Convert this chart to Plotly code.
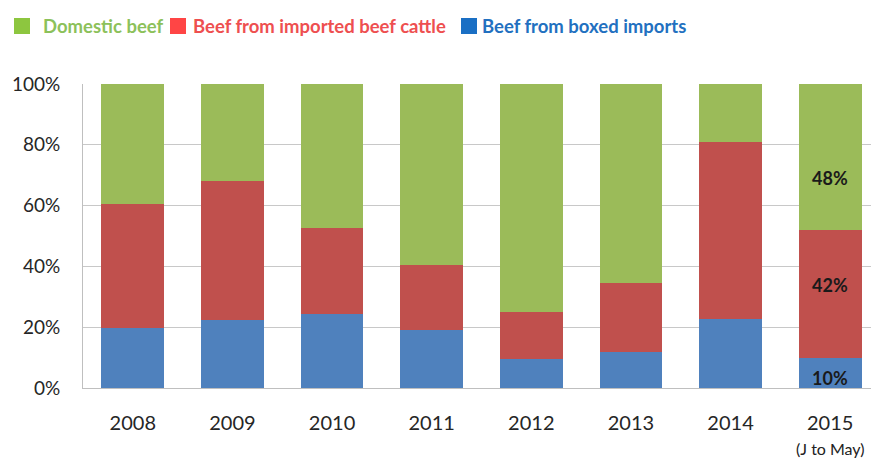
import plotly.graph_objects as go

# Share of beef supply by source, per year (percent of total)
years = ["2008", "2009", "2010", "2011", "2012", "2013", "2014", "2015"]
boxed_imports = [19.7, 22.4, 24.3, 19.1, 9.5, 12.0, 22.7, 10]
imported_cattle = [40.8, 45.8, 28.2, 21.4, 15.5, 22.6, 58.3, 42]
domestic_beef = [39.5, 31.8, 47.5, 59.5, 75.0, 65.4, 19.0, 48]

y_ticks = [0, 20, 40, 60, 80, 100]
y_tick_labels = [f"{v}%" for v in y_ticks]

labelled_year = "2015"
year_note = "(J to May)"

BAR_BLUE = "#4F81BD"
BAR_RED = "#C0504D"
BAR_GREEN = "#9BBB59"

W, H = 871, 459
ML, MR, MT, MB = 83, 0, 84, 71
PW, PH = W - ML - MR, H - MT - MB
FONT = "Lato, 'Open Sans', sans-serif"


def px_x(px):
    return (px - ML) / PW


def px_y(py):
    return (H - MB - py) / PH


fig = go.Figure()
for name, vals, col in [
    ("Beef from boxed imports", boxed_imports, BAR_BLUE),
    ("Beef from imported beef cattle", imported_cattle, BAR_RED),
    ("Domestic beef", domestic_beef, BAR_GREEN),
]:
    fig.add_trace(go.Bar(x=years, y=vals, name=name, marker_color=col,
                         marker_line_width=0, width=0.63, hoverinfo="x+y+name"))

# value labels on the partial-year bar, placed within each segment
# (category index is used for x so "2015" is not read as a number)
idx = years.index(labelled_year)
seg_pos = [0.33, 0.57, 0.355]
base = 0
for vals, frac in zip([boxed_imports, imported_cattle, domestic_beef], seg_pos):
    v = vals[idx]
    fig.add_annotation(x=idx, y=base + v * frac, xref="x", yref="y",
                       text=f"<b>{v:g}%</b>", showarrow=False,
                       font=dict(family=FONT, size=18, color="#1a1a1a"))
    base += v

fig.add_annotation(x=idx, y=px_y(448), xref="x", yref="paper",
                   yanchor="middle", text=year_note, showarrow=False,
                   borderpad=0,
                   font=dict(family=FONT, size=16, color="#222222"))

# custom legend row across the top
legend_items = [
    ("Domestic beef", "#8DC63F", "#8CC15A", 14, 41),
    ("Beef from imported beef cattle", "#FF4545", "#EE4F50", 170, 191),
    ("Beef from boxed imports", "#1A6FC4", "#2270C0", 461, 480),
]
for text, sq_col, txt_col, sq_x, txt_x in legend_items:
    fig.add_shape(type="rect", xref="paper", yref="paper",
                  x0=px_x(sq_x), x1=px_x(sq_x + 16), y0=px_y(34), y1=px_y(18),
                  fillcolor=sq_col, line_width=0)
    fig.add_annotation(x=px_x(txt_x), y=px_y(26), xref="paper", yref="paper",
                       xanchor="left", yanchor="middle", text=f"<b>{text}</b>",
                       showarrow=False,
                       font=dict(family=FONT, size=18.5, color=txt_col))

fig.update_layout(
    width=W, height=H,
    margin=dict(l=ML, r=MR, t=MT, b=MB, pad=0),
    barmode="stack",
    showlegend=False,
    plot_bgcolor="white", paper_bgcolor="white",
    font=dict(family=FONT, color="#262626"),
)
fig.update_xaxes(type="category", range=[-0.5, 7.41], showgrid=False,
                 showline=True, linecolor="#BFBFBF", linewidth=1,
                 ticks="outside", ticklen=17, tickcolor="rgba(0,0,0,0)",
                 tickfont=dict(family=FONT, size=20, color="#262626"))
fig.update_yaxes(range=[0, 100], tickvals=y_ticks, ticktext=y_tick_labels,
                 showgrid=True, gridcolor="#C8C8C8", gridwidth=1,
                 showline=True, linecolor="#BFBFBF", linewidth=1,
                 zeroline=False,
                 ticks="outside", ticklen=18, tickcolor="rgba(0,0,0,0)",
                 tickfont=dict(family=FONT, size=19, color="#262626"))

fig.write_html("out.html")
